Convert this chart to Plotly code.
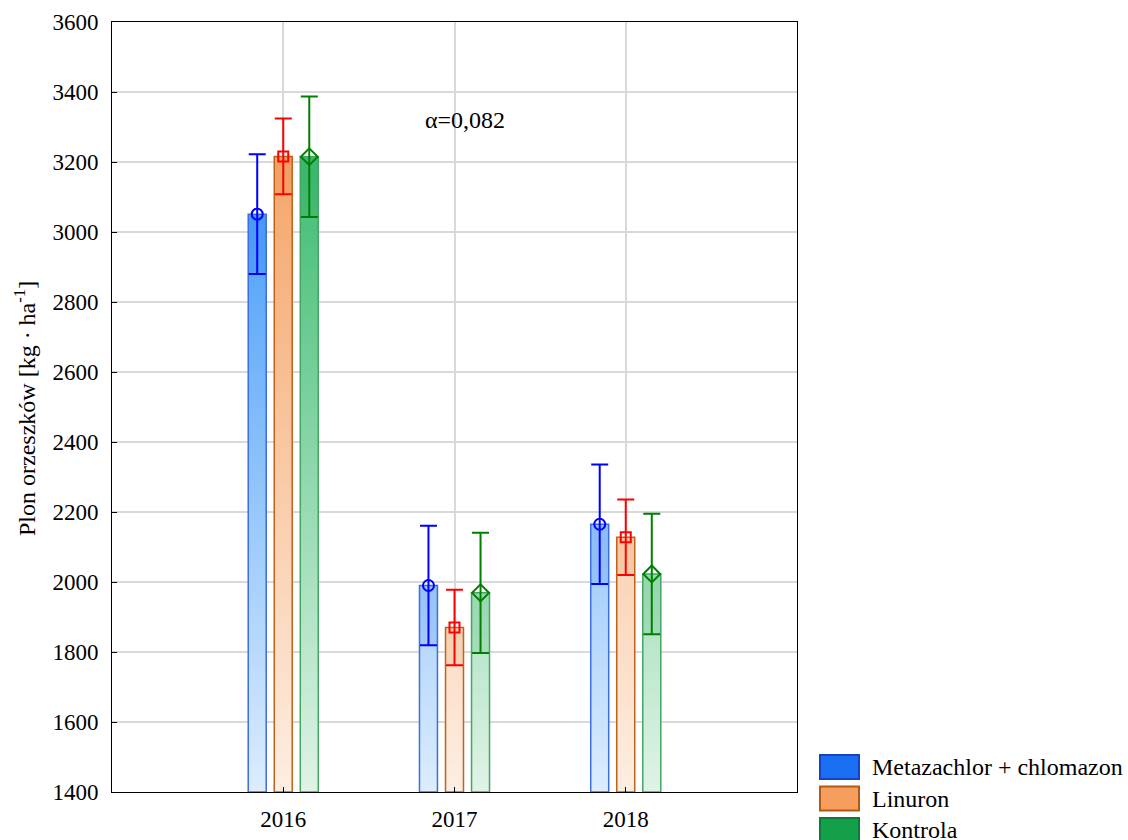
import plotly.graph_objects as go
import numpy as np

# ---------------- data ----------------
years = ["2016", "2017", "2018"]
series_names = ["Metazachlor + chlomazon", "Linuron", "Kontrola"]
metazachlor = [3051, 1990, 2165]
linuron = [3216, 1870, 2128]
kontrola = [3215, 1969, 2023]
se_metazachlor = [171, 171, 171]
se_linuron = [108, 108, 108]
se_kontrola = [172, 172, 172]
y_tick_values = [1400, 1600, 1800, 2000, 2200, 2400, 2600, 2800, 3000, 3200, 3400, 3600]
alpha_label = "α=0,082"
y_title = "Plon orzeszków [kg · ha<sup>-1</sup>]"

# ---------------- styles ----------------
FONT = "Liberation Serif, Times New Roman, serif"
FS = 24
FS_TICK = 23
BASE = 1400
pos = np.arange(len(years))
bar_w = 0.105
centers = [-0.152, 0.0, 0.152]
light = [(220, 236, 253), (253, 238, 226), (223, 243, 230)]
dark = [(70, 156, 248), (245, 168, 110), (68, 190, 118)]
outline = ["#3c6fe0", "#c0621c", "#45a565"]
err_col = ["#0000ff", "#ff0000", "#008000"]
band_col = ["rgba(20,100,230,0.13)", "rgba(220,110,30,0.10)", "rgba(20,140,60,0.12)"]
symbols = ["circle-open", "square-open", "diamond-open"]
msize = [11, 10, 13]
leg_fill = ["#1a6ef2", "#f59e5e", "#14a048"]
leg_line = ["#1544c0", "#b25a14", "#12783a"]

values = [metazachlor, linuron, kontrola]
errors = [se_metazachlor, se_linuron, se_kontrola]

fig = go.Figure()

G_LO, G_HI = 1400, 3150
step = 20
for s in range(3):
    v = np.array(values[s], dtype=float)
    levels = np.arange(BASE + step, v.max() + step, step)
    off = centers[s] - bar_w / 2
    for hi in levels[::-1]:
        top = np.minimum(v, hi)
        h = np.clip(top - BASE, 0, None)
        t = np.clip((hi - step / 2 - G_LO) / (G_HI - G_LO), 0, 1)
        c = tuple(int(round(light[s][k] + (dark[s][k] - light[s][k]) * t)) for k in range(3))
        fig.add_trace(go.Bar(
            x=pos, y=h, base=[BASE] * len(pos), offset=off, width=bar_w,
            marker=dict(color="rgb(%d,%d,%d)" % c, line=dict(width=0)),
            showlegend=False, hoverinfo="skip"))
    # darker band between mean-SE and mean
    e = np.array(errors[s], dtype=float)
    fig.add_trace(go.Bar(
        x=pos, y=e, base=v - e, offset=off, width=bar_w,
        marker=dict(color=band_col[s], line=dict(width=0)),
        showlegend=False, hoverinfo="skip"))
    # outline
    fig.add_trace(go.Bar(
        x=pos, y=v - BASE, base=[BASE] * len(pos), offset=off, width=bar_w,
        marker=dict(color="rgba(0,0,0,0)", line=dict(color=outline[s], width=1.5)),
        showlegend=False, name=series_names[s]))

for s in range(3):
    fig.add_trace(go.Scatter(
        x=pos + centers[s], y=values[s], mode="markers",
        marker=dict(symbol=symbols[s], size=msize[s], color=err_col[s], line=dict(width=2, color=err_col[s])),
        error_y=dict(type="data", array=errors[s], symmetric=True, color=err_col[s], thickness=2, width=8.5),
        showlegend=False, name=series_names[s]))

# ---------------- custom legend ----------------
def px_x(px):
    return (px - 112) / 685.0

def px_y(py):
    return (792 - py) / 770.0

leg_rows = [767, 798.5, 830]
for s in range(3):
    cy = leg_rows[s]
    fig.add_shape(type="rect", xref="paper", yref="paper",
                  x0=px_x(820), x1=px_x(859), y0=px_y(cy + 12), y1=px_y(cy - 12),
                  fillcolor=leg_fill[s], line=dict(color=leg_line[s], width=2), layer="above")
    fig.add_annotation(x=px_x(870), y=px_y(cy), xref="paper", yref="paper",
                       text=series_names[s], showarrow=False, xanchor="left", yanchor="middle",
                       font=dict(family=FONT, size=FS, color="black"))
fig.add_trace(go.Scatter(
    x=[px_x(839.5)] * 3, y=[px_y(r) for r in leg_rows], xaxis="x2", yaxis="y2",
    mode="markers", cliponaxis=False,
    marker=dict(symbol=symbols, size=[9, 9, 11], color=err_col, line=dict(width=1.6, color=err_col)),
    showlegend=False, hoverinfo="skip"))

fig.add_annotation(x=px_x(465), y=px_y(120), xref="paper", yref="paper", text=alpha_label,
                   showarrow=False, xanchor="center", yanchor="middle",
                   font=dict(family=FONT, size=FS, color="black"))
fig.add_annotation(x=px_x(25), y=px_y(409), xref="paper", yref="paper", text=y_title,
                   textangle=-90, showarrow=False, xanchor="center", yanchor="middle",
                   font=dict(family=FONT, size=FS, color="black"))

fig.update_layout(
    width=1128, height=840,
    margin=dict(l=112, r=331, t=22, b=48, autoexpand=False),
    paper_bgcolor="white", plot_bgcolor="white",
    barmode="overlay",
    font=dict(family=FONT, size=FS, color="black"),
    xaxis=dict(range=[-1, 3], tickvals=list(pos), ticktext=years, showgrid=True,
               gridcolor="#d9d9d9", gridwidth=2, showline=True, linecolor="black", linewidth=1,
               mirror=True, ticks="inside", ticklen=5, tickcolor="black", zeroline=False,
               ticklabelstandoff=6, tickfont=dict(family=FONT, size=FS_TICK, color="black")),
    yaxis=dict(range=[1400, 3600], tickvals=y_tick_values, showgrid=True,
               gridcolor="#d9d9d9", gridwidth=2, showline=True, linecolor="black", linewidth=1,
               mirror=True, ticks="inside", ticklen=5, tickcolor="black", zeroline=False,
               ticklabelstandoff=8, tickfont=dict(family=FONT, size=FS_TICK, color="black")),
    xaxis2=dict(range=[0, 1], overlaying="x", visible=False, fixedrange=True),
    yaxis2=dict(range=[0, 1], overlaying="y", visible=False, fixedrange=True),
)

fig.write_html("out.html")
